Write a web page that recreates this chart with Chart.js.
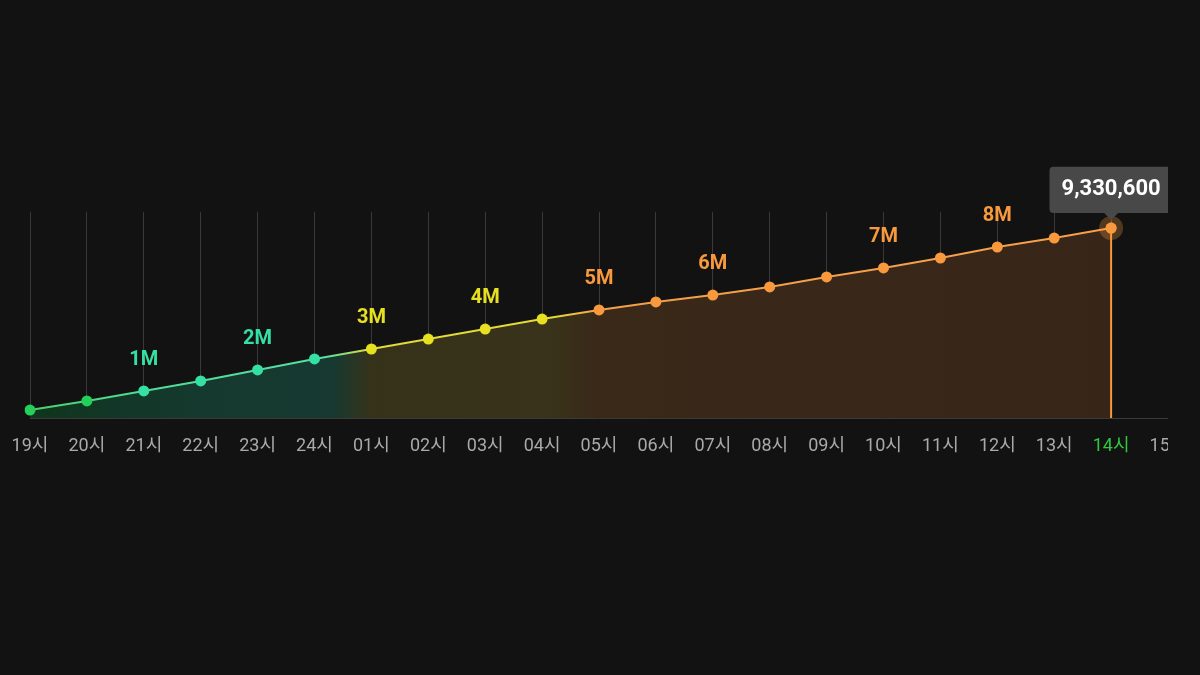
<!DOCTYPE html>
<html>
<head>
<meta charset="utf-8">
<script src="https://cdn.jsdelivr.net/npm/chart.js@4"></script>
<style>
  html, body { margin: 0; padding: 0; background: #121212; }
  #wrap { width: 1168px; height: 675px; overflow: hidden; }
</style>
</head>
<body>
<div id="wrap"><canvas id="viewChart" width="1240" height="675"></canvas></div>
<script>
// 데이터
const hourLabels = ['19시','20시','21시','22시','23시','24시','01시','02시','03시','04시',
  '05시','06시','07시','08시','09시','10시','11시','12시','13시','14시','15시'];
const totals = [390000, 840000, 1330000, 1820000, 2360000, 2900000, 3390000, 3880000, 4370000, 4860000,
  5310000, 5700000, 6040000, 6440000, 6930000, 7370000, 7860000, 8400000, 8840000, 9330600, null];
const milestoneText = ['1M', '2M', '3M', '4M', '5M', '6M', '7M', '8M'];
const milestoneIndex = [2, 4, 6, 8, 10, 12, 15, 17];
const currentIndex = 19;

// 구간별 색
const GREEN = '#22d05a', MINT = '#34e0a4', YELLOW = '#e6e020', ORANGE = '#f7993c';
function zoneColor(i) {
  if (i < 2) return GREEN;
  if (i < 6) return MINT;
  if (i < 10) return YELLOW;
  return ORANGE;
}
const pointColors = totals.map((v, i) => zoneColor(i));
const FONT = "Roboto, 'Noto Sans CJK KR', sans-serif";

function xFrac(chart, idx) {
  const a = chart.chartArea;
  return (chart.scales.x.getPixelForValue(idx) - a.left) / (a.right - a.left);
}

function fillGradient(ctx) {
  const chart = ctx.chart;
  const a = chart.chartArea;
  if (!a) return 'rgba(0,0,0,0)';
  const g = chart.ctx.createLinearGradient(a.left, 0, a.right, 0);
  g.addColorStop(0, '#10351c');
  g.addColorStop(xFrac(chart, 1.5), '#123727');
  g.addColorStop(xFrac(chart, 3), '#15392e');
  g.addColorStop(xFrac(chart, 5.3), '#163a31');
  g.addColorStop(xFrac(chart, 6), '#36321a');
  g.addColorStop(xFrac(chart, 9.1), '#38331a');
  g.addColorStop(xFrac(chart, 10), '#3a2819');
  g.addColorStop(1, '#372518');
  return g;
}

function lineGradient(ctx) {
  const chart = ctx.chart;
  const a = chart.chartArea;
  if (!a) return ORANGE;
  const g = chart.ctx.createLinearGradient(a.left, 0, a.right, 0);
  g.addColorStop(0, '#4ccf6c');
  g.addColorStop(xFrac(chart, 2), '#4fdc9a');
  g.addColorStop(xFrac(chart, 5.2), '#56dfa4');
  g.addColorStop(xFrac(chart, 6), '#e2dc36');
  g.addColorStop(xFrac(chart, 9.2), '#e6d83a');
  g.addColorStop(xFrac(chart, 10), '#f3a048');
  g.addColorStop(1, '#f7a04a');
  return g;
}

// 현재 시점 세로선 + 후광
const hoverMarker = {
  id: 'hoverMarker',
  afterDatasetsDraw(chart) {
    const p = chart.getDatasetMeta(0).data[currentIndex];
    const c = chart.ctx;
    c.save();
    c.strokeStyle = ORANGE;
    c.lineWidth = 2;
    c.beginPath();
    c.moveTo(p.x, p.y);
    c.lineTo(p.x, chart.chartArea.bottom);
    c.stroke();
    c.fillStyle = 'rgba(247,153,60,0.28)';
    c.beginPath();
    c.arc(p.x, p.y, 12, 0, Math.PI * 2);
    c.fill();
    c.fillStyle = ORANGE;
    c.beginPath();
    c.arc(p.x, p.y, 5.5, 0, Math.PI * 2);
    c.fill();
    c.restore();
  }
};

// 1M, 2M ... 표시
const milestoneLabels = {
  id: 'milestoneLabels',
  afterDatasetsDraw(chart) {
    const pts = chart.getDatasetMeta(0).data;
    const c = chart.ctx;
    c.save();
    c.font = 'bold 20px ' + FONT;
    c.textAlign = 'center';
    c.textBaseline = 'middle';
    milestoneIndex.forEach((idx, k) => {
      const p = pts[idx];
      c.fillStyle = zoneColor(idx);
      c.fillText(milestoneText[k], p.x, p.y - 31);
    });
    c.restore();
  }
};

document.addEventListener('DOMContentLoaded', () => {
  const ctx = document.getElementById('viewChart').getContext('2d');
  const viewChart = new Chart(ctx, {
    type: 'line',
    data: {
      labels: hourLabels,
      datasets: [{
        data: totals,
        borderColor: lineGradient,
        borderWidth: 2,
        backgroundColor: fillGradient,
        fill: 'origin',
        tension: 0,
        pointRadius: 5.5,
        pointBorderWidth: 0,
        pointBackgroundColor: pointColors,
        pointHoverRadius: 5.5
      }]
    },
    options: {
      responsive: false,
      animation: false,
      events: [],
      layout: { padding: { top: 212, left: 30, right: 72, bottom: 207 } },
      scales: {
        x: {
          offset: false,
          afterFit: (scale) => {
            scale.paddingLeft = 0;
            scale.paddingRight = 0;
            scale.height = 50;
          },
          grid: { color: 'rgba(255,255,255,0.17)', drawTicks: false },
          border: { color: '#3a3a3a', width: 1 },
          ticks: {
            padding: 18,
            maxRotation: 0,
            autoSkip: false,
            font: { size: 18, family: FONT },
            color: (c) => c.index === currentIndex ? '#2fc83c' : '#a9a9a9'
          }
        },
        y: { display: false, min: 0, max: 10120000 }
      },
      plugins: {
        legend: { display: false },
        tooltip: {
          enabled: true,
          displayColors: false,
          backgroundColor: 'rgba(74,74,74,0.97)',
          bodyColor: '#ffffff',
          bodyFont: { size: 22, weight: 'bold', family: FONT },
          padding: { x: 12, y: 10 },
          cornerRadius: 4,
          caretSize: 7,
          caretPadding: 8,
          xAlign: 'center',
          yAlign: 'bottom',
          callbacks: {
            title: () => '',
            label: (item) => item.raw.toLocaleString('en-US')
          }
        }
      }
    },
    plugins: [hoverMarker, milestoneLabels]
  });

  const p = viewChart.getDatasetMeta(0).data[currentIndex];
  viewChart.tooltip.setActiveElements([{ datasetIndex: 0, index: currentIndex }], { x: p.x, y: p.y });
  viewChart.update();
});
</script>
</body>
</html>
